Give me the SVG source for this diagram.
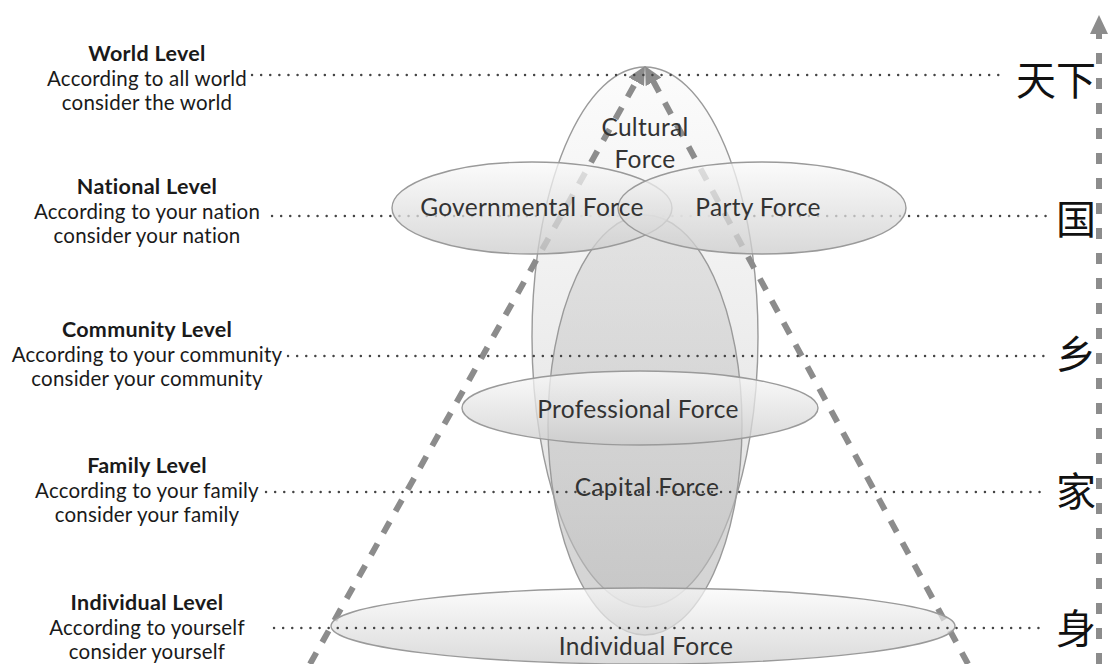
<svg xmlns="http://www.w3.org/2000/svg" width="1108" height="664" viewBox="0 0 1108 664">
  <defs>
    <style>
      .lvl { font-family: Lato, "Liberation Sans", sans-serif; font-size: 20.5px; letter-spacing: 0.2px; fill: #1a1a1a; text-anchor: middle; }
      .lvl-title { font-weight: bold; font-size: 21.5px; letter-spacing: 0.3px; }
      .force { font-family: Lato, "Liberation Sans", sans-serif; font-size: 24.5px; letter-spacing: 0.3px; fill: #333; text-anchor: middle; }
      .cjk { font-family: "Noto Sans CJK SC", sans-serif; font-size: 40px; fill: #111; text-anchor: end; }
      .guide { stroke: #444; stroke-width: 2.4; stroke-linecap: round; stroke-dasharray: 0.1 9; fill: none; }
      .arrow { stroke: #8c8c8c; stroke-width: 6; stroke-dasharray: 13 12; fill: none; }
      .axis { stroke: #8c8c8c; stroke-width: 6; stroke-dasharray: 11 14; fill: none; }
      .ell { stroke: #9a9a9a; stroke-width: 1.4; }
    </style>
    <linearGradient id="gLight" x1="0" y1="0" x2="0" y2="1">
      <stop offset="0" stop-color="#fafafa"/>
      <stop offset="1" stop-color="#cccccc"/>
    </linearGradient>
    <linearGradient id="gTall" x1="0" y1="0" x2="0" y2="1">
      <stop offset="0" stop-color="#fbfbfb"/>
      <stop offset="1" stop-color="#d6d6d6"/>
    </linearGradient>
    <linearGradient id="gCapital" x1="0" y1="0" x2="0" y2="1">
      <stop offset="0" stop-color="#d8d8d8"/>
      <stop offset="1" stop-color="#b4b4b4"/>
    </linearGradient>
    <marker id="head" markerUnits="userSpaceOnUse" viewBox="0 0 18 18" markerWidth="18" markerHeight="18" refX="8" refY="9" orient="auto">
      <path d="M0,0 L18,9 L0,18 z" fill="#8c8c8c"/>
    </marker>
  </defs>

  <rect width="1108" height="664" fill="#ffffff"/>

  <!-- level captions on the left -->
  <g id="level-world">
    <text class="lvl lvl-title" x="147" y="61">World Level</text>
    <text class="lvl" x="147" y="86">According to all world</text>
    <text class="lvl" x="147" y="110">consider the world</text>
  </g>
  <g id="level-national">
    <text class="lvl lvl-title" x="147" y="194">National Level</text>
    <text class="lvl" x="147" y="219">According to your nation</text>
    <text class="lvl" x="147" y="243">consider your nation</text>
  </g>
  <g id="level-community">
    <text class="lvl lvl-title" x="147" y="337">Community Level</text>
    <text class="lvl" x="147" y="362">According to your community</text>
    <text class="lvl" x="147" y="386">consider your community</text>
  </g>
  <g id="level-family">
    <text class="lvl lvl-title" x="147" y="473">Family Level</text>
    <text class="lvl" x="147" y="498">According to your family</text>
    <text class="lvl" x="147" y="522">consider your family</text>
  </g>
  <g id="level-individual">
    <text class="lvl lvl-title" x="147" y="610">Individual Level</text>
    <text class="lvl" x="147" y="635">According to yourself</text>
    <text class="lvl" x="147" y="659">consider yourself</text>
  </g>

  <!-- Chinese level marks on the right -->
  <g id="mark-tianxia"><text class="cjk" x="1096" y="95">天下</text></g>
  <g id="mark-guo"><text class="cjk" x="1096" y="234">国</text></g>
  <g id="mark-xiang"><text class="cjk" x="1096" y="369">乡</text></g>
  <g id="mark-jia"><text class="cjk" x="1096" y="506">家</text></g>
  <g id="mark-shen"><text class="cjk" x="1096" y="643">身</text></g>

  <!-- national guide runs beneath the government and party ellipses -->
  <g id="guides-back">
    <path class="guide" d="M272,216 H1048"/>
  </g>

  <!-- tall cultural ellipse -->
  <g id="node-cultural">
    <ellipse class="ell" cx="645" cy="337" rx="113" ry="270" fill="url(#gTall)" fill-opacity="0.8"/>
  </g>

  <!-- rising dashed arrows and the vertical axis -->
  <g id="connectors">
    <path class="arrow" d="M310,664 L640.1,74.7" marker-end="url(#head)"/>
    <path class="arrow" d="M968,664 L649.8,74.8" marker-end="url(#head)"/>
    <path class="axis" d="M1099,664 V33"/>
    <path d="M1099,15 L1090,34 L1108,34 z" fill="#8c8c8c"/>
  </g>

  <g id="node-capital">
    <ellipse class="ell" cx="645" cy="425" rx="97" ry="210" fill="url(#gCapital)" fill-opacity="0.6"/>
  </g>
  <g id="node-governmental">
    <ellipse class="ell" cx="532" cy="208" rx="140" ry="46" fill="url(#gLight)" fill-opacity="0.75"/>
  </g>
  <g id="node-party">
    <ellipse class="ell" cx="762" cy="208" rx="144" ry="46" fill="url(#gLight)" fill-opacity="0.75"/>
  </g>
  <g id="node-professional">
    <ellipse class="ell" cx="640" cy="408" rx="178" ry="37" fill="url(#gLight)" fill-opacity="0.75"/>
  </g>
  <g id="node-individual">
    <ellipse class="ell" cx="643" cy="626" rx="312" ry="38" fill="url(#gLight)" fill-opacity="0.7"/>
  </g>

  <!-- remaining dotted guides across the ellipses -->
  <g id="guides">
    <path class="guide" d="M252,75 H1006"/>
    <path class="guide" d="M288,356 H1048"/>
    <path class="guide" d="M266,492 H1048"/>
    <path class="guide" d="M274,628 H1046"/>
  </g>

  <!-- force labels -->
  <g id="labels">
    <text class="force" x="645" y="136">Cultural</text>
    <text class="force" x="645" y="168">Force</text>
    <text class="force" x="532" y="216">Governmental Force</text>
    <text class="force" x="758" y="216">Party Force</text>
    <text class="force" x="638" y="418">Professional Force</text>
    <text class="force" x="647" y="496">Capital Force</text>
    <text class="force" x="646" y="655">Individual Force</text>
  </g>
</svg>
